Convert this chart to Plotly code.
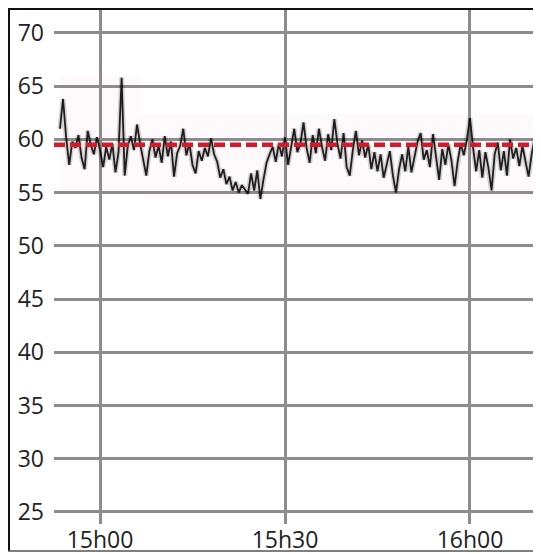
import pandas as pd
import plotly.graph_objects as go

# Readings sampled every 30 s, starting 14:53:30
START = "2020-01-01 14:53:30"
STEP = "30s"
values = [
    61.0, 63.8, 60.2, 57.6, 59.8, 59.2, 60.4, 58.3, 57.2, 60.8,
    59.5, 58.6, 60.2, 59.0, 57.4, 59.3, 58.1, 59.6, 56.9, 58.8,
    65.8, 56.6, 59.4, 60.3, 59.0, 61.4, 59.6, 58.2, 56.6, 58.9,
    60.0, 58.3, 59.4, 57.8, 60.3, 58.4, 59.8, 56.5, 58.7, 59.4,
    61.0, 58.5, 59.6, 57.6, 56.8, 58.9, 58.0, 59.2, 58.4, 60.1,
    58.6, 57.9, 56.4, 57.2, 55.8, 56.5, 55.2, 56.0, 55.0, 55.7,
    55.3, 54.9, 56.8, 55.2, 57.1, 54.4, 56.2, 57.8, 58.6, 59.3,
    57.9, 59.6, 58.4, 60.2, 57.6, 59.4, 61.0, 58.8, 59.6, 61.6,
    59.2, 57.8, 60.4, 58.7, 61.0, 59.3, 58.0, 60.5, 59.0, 61.9,
    59.6, 58.2, 60.6, 57.4, 56.6, 59.0, 60.8, 58.5, 59.9, 58.3,
    59.5, 57.2, 58.8, 57.0, 58.6, 56.4, 57.8, 58.9, 56.6, 55.0,
    57.2, 58.6, 57.0, 59.3, 56.9, 58.4, 59.8, 60.6, 58.1, 59.0,
    57.4, 60.5, 58.2, 56.2, 59.1, 57.6, 59.5, 58.0, 55.6, 57.9,
    59.6, 58.5, 60.0, 62.0, 59.2, 57.0, 59.0, 56.4, 58.8, 57.3,
    55.2, 58.6, 59.7, 57.1, 58.9, 56.6, 60.0, 58.2, 59.2, 57.5,
    59.4, 57.8, 56.5, 58.6, 60.1, 58.2, 59.3,
]
times = pd.date_range(START, periods=len(values), freq=STEP)

# faint background spread band
band_times = pd.to_datetime(["2020-01-01 14:53:30", "2020-01-01 15:06:30",
                             "2020-01-01 15:06:30", "2020-01-01 16:11:30"])
band_upper = [66.0, 66.0, 62.3, 62.3]
band_lower = [55.0, 55.0, 54.5, 54.5]

reference_level = 59.5

x_range = ["2020-01-01 14:52:32", "2020-01-01 16:11:31"]
y_range = [23.87, 72.25]
x_ticks = pd.to_datetime(["2020-01-01 15:00", "2020-01-01 15:30", "2020-01-01 16:00"])
y_ticks = [25, 30, 35, 40, 45, 50, 55, 60, 65, 70]

# page body has an 8px margin, so the figure is drawn 8px smaller
W, H = 533, 546
L, R, T, B = 46, 0, 1, 30
pw, ph = W - L - R, H - T - B


def px(x):
    return (x - L) / pw


def py(y):
    return (H - B - y) / ph


FONT = "Open Sans, sans-serif"
GRID = "#8c8c8c"

fig = go.Figure()
fig.add_trace(go.Scatter(
    x=band_times, y=band_upper, mode="lines",
    line=dict(width=0), hoverinfo="skip", showlegend=False,
))
fig.add_trace(go.Scatter(
    x=band_times, y=band_lower, mode="lines",
    line=dict(width=0), fill="tonexty", fillcolor="rgba(215,120,130,0.035)",
    hoverinfo="skip", showlegend=False,
))
# soft halo to imitate the blurred trace
fig.add_trace(go.Scatter(
    x=times, y=values, mode="lines",
    line=dict(color="rgba(0,0,0,0.16)", width=5),
    hoverinfo="skip", showlegend=False,
))
fig.add_trace(go.Scatter(
    x=times, y=values, mode="lines",
    line=dict(color="rgba(10,10,10,0.9)", width=1.8),
    showlegend=False,
))
fig.add_hline(y=reference_level, line=dict(color="#cc1f2e", width=4.5, dash="11px,5px"))

# frame around the picture (left, top, bottom)
frame = dict(type="line", xref="paper", yref="paper", layer="above")
fig.add_shape(**frame, x0=px(1), x1=px(1), y0=py(543), y1=py(1), line=dict(color="#111", width=2))
fig.add_shape(**frame, x0=px(0), x1=px(W), y0=py(1), y1=py(1), line=dict(color="#111", width=2))
fig.add_shape(**frame, x0=px(0), x1=px(W), y0=py(543), y1=py(543), line=dict(color="#555", width=1.5))

fig.update_layout(
    width=W, height=H,
    margin=dict(l=L, r=R, t=T, b=B, pad=0),
    plot_bgcolor="white", paper_bgcolor="white",
    font=dict(family=FONT, size=23, color="#222"),
    showlegend=False,
)
fig.update_xaxes(
    range=x_range, tickvals=x_ticks, tickformat="%Hh%M",
    showgrid=True, gridcolor=GRID, gridwidth=2.5,
    showline=False, zeroline=False, ticks="", ticklabelstandoff=0,
)
fig.update_yaxes(
    range=y_range, tickvals=y_ticks,
    showgrid=True, gridcolor=GRID, gridwidth=2.5,
    showline=False, zeroline=False, ticks="", ticklabelstandoff=9,
)

fig.write_html("out.html")
